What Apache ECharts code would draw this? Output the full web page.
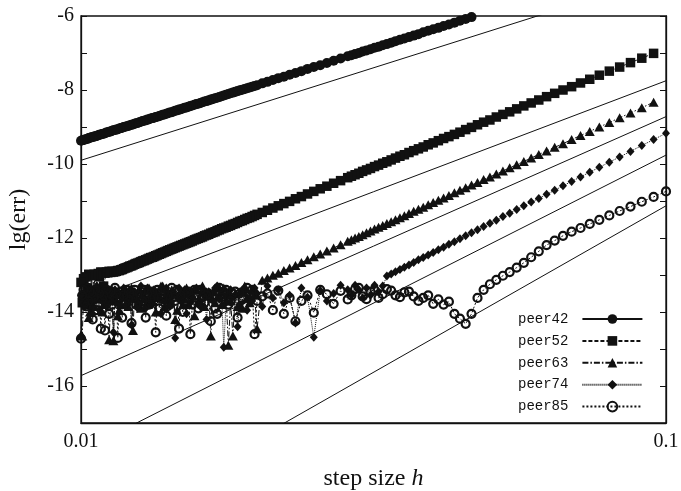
<!DOCTYPE html>
<html>
<head>
<meta charset="utf-8">
<script src="https://cdn.jsdelivr.net/npm/echarts@6/dist/echarts.min.js"></script>
<style>
  html, body { margin: 0; padding: 0; background: #fff; }
  #chart { width: 681px; height: 491px; }
</style>
</head>
<body>
<div id="chart"></div>
<script>
// step sizes h, from 0.1 down to 0.01
const steps = [
  0.1, 0.09524, 0.09091, 0.08696, 0.08333, 0.08, 0.07692, 0.07407, 0.07143, 0.06897,
  0.06667, 0.06452, 0.0625, 0.06061, 0.05882, 0.05714, 0.05556, 0.05405, 0.05263, 0.05128,
  0.05, 0.04878, 0.04762, 0.04651, 0.04545, 0.04444, 0.04348, 0.04255, 0.04167, 0.04082,
  0.04, 0.03922, 0.03846, 0.03774, 0.03704, 0.03636, 0.03571, 0.03509, 0.03448, 0.0339,
  0.03333, 0.03279, 0.03226, 0.03175, 0.03125, 0.03077, 0.0303, 0.02985, 0.02941, 0.02899,
  0.02857, 0.02778, 0.02703, 0.02632, 0.02564, 0.025, 0.02439, 0.02381, 0.02326, 0.02273,
  0.02222, 0.02174, 0.02128, 0.02083, 0.02041,
  0.02, 0.0198, 0.01961, 0.01942, 0.01923, 0.01905, 0.01887, 0.01869, 0.01852, 0.01835,
  0.01818, 0.01802, 0.01786, 0.0177, 0.01754, 0.01739, 0.01724, 0.01709, 0.01695, 0.01681,
  0.01667, 0.01653, 0.01639, 0.01626, 0.01613, 0.016, 0.01587, 0.01575, 0.01563, 0.0155,
  0.01538, 0.01527, 0.01515, 0.01504, 0.01493, 0.01481, 0.01471, 0.0146, 0.01449, 0.01439,
  0.01429, 0.01418, 0.01408, 0.01399, 0.01389, 0.01379, 0.0137, 0.01361, 0.01351, 0.01342,
  0.01333, 0.01325, 0.01316, 0.01307, 0.01299, 0.0129, 0.01282, 0.01274, 0.01266, 0.01258,
  0.0125, 0.01242, 0.01235, 0.01227, 0.0122, 0.01212, 0.01205, 0.01198, 0.0119, 0.01183,
  0.01176, 0.0117, 0.01163, 0.01156, 0.01149, 0.01143, 0.01136, 0.0113, 0.01124, 0.01117,
  0.01111, 0.01105, 0.01099, 0.01093, 0.01087, 0.01081, 0.01075, 0.0107, 0.01064, 0.01058,
  0.01053, 0.01047, 0.01042, 0.01036, 0.01031, 0.01026, 0.0102, 0.01015, 0.0101, 0.01005,
  0.01
]

// lg(err) per method, same order as steps (null = off the plot)
const peer42 = [
  null, null, null, null, null, null, null, null, null, null,
  null, null, null, null, null, null, null, null, null, null,
  null, null, null, -6.03, -6.08, -6.13, -6.18, -6.23, -6.27, -6.32,
  -6.36, -6.40, -6.44, -6.49, -6.53, -6.57, -6.61, -6.64, -6.68, -6.72,
  -6.76, -6.79, -6.83, -6.86, -6.90, -6.93, -6.96, -7.00, -7.03, -7.06,
  -7.09, -7.15, -7.21, -7.27, -7.33, -7.38, -7.43, -7.49, -7.54, -7.59,
  -7.64, -7.68, -7.73, -7.78, -7.82,
  -7.87, -7.89, -7.91, -7.93, -7.95, -7.97, -7.99, -8.01, -8.03, -8.05,
  -8.07, -8.09, -8.11, -8.13, -8.15, -8.17, -8.19, -8.21, -8.22, -8.24,
  -8.26, -8.28, -8.30, -8.31, -8.33, -8.35, -8.37, -8.38, -8.40, -8.42,
  -8.43, -8.45, -8.47, -8.48, -8.50, -8.52, -8.53, -8.55, -8.56, -8.58,
  -8.60, -8.61, -8.63, -8.64, -8.66, -8.67, -8.69, -8.70, -8.72, -8.73,
  -8.75, -8.76, -8.77, -8.79, -8.80, -8.82, -8.83, -8.84, -8.86, -8.87,
  -8.89, -8.90, -8.91, -8.93, -8.94, -8.95, -8.97, -8.98, -8.99, -9.00,
  -9.02, -9.03, -9.04, -9.06, -9.07, -9.08, -9.09, -9.10, -9.12, -9.13,
  -9.14, -9.15, -9.17, -9.18, -9.19, -9.20, -9.21, -9.22, -9.24, -9.25,
  -9.26, -9.27, -9.28, -9.29, -9.30, -9.32, -9.33, -9.34, -9.35, -9.36,
  -9.37
]
const peer52 = [
  null, -7.01, -7.14, -7.26, -7.38, -7.49, -7.60, -7.71, -7.81, -7.91,
  -8.00, -8.09, -8.18, -8.27, -8.35, -8.43, -8.51, -8.59, -8.66, -8.73,
  -8.81, -8.87, -8.94, -9.01, -9.07, -9.14, -9.20, -9.26, -9.31, -9.37,
  -9.43, -9.48, -9.54, -9.59, -9.64, -9.69, -9.75, -9.79, -9.84, -9.89,
  -9.94, -9.98, -10.03, -10.07, -10.12, -10.16, -10.20, -10.25, -10.29, -10.33,
  -10.37, -10.45, -10.52, -10.60, -10.67, -10.74, -10.81, -10.88, -10.94, -11.01,
  -11.07, -11.13, -11.19, -11.25, -11.31,
  -11.36, -11.39, -11.42, -11.45, -11.47, -11.50, -11.53, -11.55, -11.58, -11.61,
  -11.63, -11.66, -11.68, -11.71, -11.73, -11.75, -11.78, -11.80, -11.83, -11.85,
  -11.87, -11.90, -11.92, -11.94, -11.97, -11.99, -12.01, -12.03, -12.05, -12.08,
  -12.10, -12.12, -12.14, -12.16, -12.18, -12.20, -12.22, -12.24, -12.26, -12.28,
  -12.30, -12.32, -12.34, -12.36, -12.38, -12.40, -12.42, -12.44, -12.46, -12.48,
  -12.50, -12.52, -12.53, -12.55, -12.57, -12.59, -12.61, -12.62, -12.64, -12.66,
  -12.68, -12.69, -12.71, -12.73, -12.75, -12.76, -12.78, -12.80, -12.81, -12.83,
  -12.85, -12.86, -12.88, -12.88, -12.90, -12.91, -12.92, -12.90, -12.93, -12.90,
  -12.94, -12.92, -12.95, -13.30, -12.93, -12.92, -13.05, -12.96, -13.00, -13.55,
  -12.98, -13.45, -13.02, -13.80, -12.98, -13.35, -13.05, -13.60, -13.10, -13.75,
  -13.20
]
const peer63 = [
  null, -8.33, -8.48, -8.62, -8.75, -8.88, -9.00, -9.12, -9.23, -9.34,
  -9.45, -9.55, -9.65, -9.74, -9.84, -9.93, -10.02, -10.10, -10.19, -10.27,
  -10.35, -10.42, -10.50, -10.57, -10.64, -10.71, -10.78, -10.85, -10.92, -10.98,
  -11.04, -11.10, -11.17, -11.22, -11.28, -11.34, -11.40, -11.45, -11.51, -11.56,
  -11.61, -11.66, -11.71, -11.76, -11.81, -11.86, -11.91, -11.96, -12.00, -12.05,
  -12.09, -12.18, -12.27, -12.35, -12.43, -12.51, -12.59, -12.66, -12.74, -12.81,
  -12.88, -12.95, -13.01, -13.08, -13.14,
  -14.45, -13.55, -13.40, -13.75, -13.60, -13.30, -13.90, -13.45, -13.85, -13.50,
  -14.65, -13.70, -14.90, -13.55, -13.35, -13.80, -13.35, -13.60, -13.75, -13.45,
  -14.65, -13.50, -13.45, -13.85, -13.30, -13.70, -13.70, -13.40, -14.10, -13.55,
  -13.50, -13.80, -13.35, -13.65, -13.80, -13.45, -13.60, -13.95, -14.20, -13.50,
  -13.40, -13.75, -13.55, -13.65, -13.85, -13.30, -13.30, -13.60, -13.50, -14.00,
  -13.45, -13.70, -13.55, -13.35, -13.80, -13.40, -13.65, -13.50, -13.90, -13.40,
  -13.75, -13.60, -13.45, -14.50, -13.35, -13.60, -13.85, -13.70, -13.40, -13.55,
  -13.45, -13.80, -13.95, -14.10, -13.50, -13.65, -14.78, -13.40, -13.70, -14.75,
  -13.60, -13.35, -13.55, -13.80, -14.00, -13.95, -13.40, -13.65, -13.30, -13.50,
  -13.85, -13.65, -13.40, -14.00, -14.15, -13.55, -13.75, -13.40, -13.60, -14.65,
  -14.62
]
const peer74 = [
  -9.17, -9.34, -9.50, -9.66, -9.81, -9.95, -10.09, -10.22, -10.35, -10.47,
  -10.59, -10.71, -10.82, -10.93, -11.03, -11.13, -11.23, -11.33, -11.42, -11.52,
  -11.60, -11.69, -11.78, -11.86, -11.94, -12.02, -12.10, -12.17, -12.25, -12.32,
  -12.39, -12.46, -12.53, -12.59, -12.66, -12.73, -12.79, -12.85, -12.91, -12.97,
  -13.03, -13.30, -13.45, -13.28, -13.55, -13.35, -13.62, -13.40, -13.28, -13.55,
  -13.40, -13.28, -13.50, -13.70, -13.42, -14.68, -13.60, -13.35, -14.30, -13.55,
  -13.75, -13.40, -13.62, -13.30, -13.85,
  -13.50, -13.35, -13.70, -13.60, -13.95, -13.45, -13.40, -13.80, -14.40, -13.55,
  -13.60, -13.40, -13.55, -13.75, -14.95, -13.50, -13.65, -13.30, -13.35, -13.70,
  -13.65, -13.45, -14.20, -13.55, -13.45, -13.85, -13.80, -13.35, -13.40, -13.60,
  -13.75, -13.50, -14.05, -13.40, -13.55, -13.70, -13.35, -13.60, -14.70, -13.45,
  -13.60, -13.85, -13.50, -13.35, -13.70, -13.40, -14.05, -13.55, -13.65, -13.60,
  -13.40, -13.80, -13.45, -13.65, -13.35, -13.90, -13.50, -13.60, -13.30, -13.75,
  -13.90, -13.70, -13.45, -13.60, -14.35, -13.40, -13.55, -13.50, -13.85, -13.35,
  -13.65, -13.50, -13.80, -13.45, -13.60, -13.40, -14.55, -13.70, -13.50, -13.40,
  -13.55, -13.85, -13.75, -13.40, -13.65, -13.50, -13.95, -13.45, -13.30, -13.60,
  -13.70, -14.05, -13.40, -13.55, -13.60, -13.80, -13.35, -13.85, -13.50, -13.65,
  -13.55
]
const peer85 = [
  -10.74, -10.89, -11.02, -11.15, -11.27, -11.39, -11.51, -11.62, -11.73, -11.83,
  -11.94, -12.07, -12.19, -12.36, -12.52, -12.67, -12.80, -12.92, -13.02, -13.13,
  -13.25, -13.40, -13.62, -14.05, -14.32, -14.18, -14.05, -13.72, -13.80, -13.66,
  -13.78, -13.55, -13.62, -13.70, -13.58, -13.45, -13.47, -13.60, -13.55, -13.42,
  -13.38, -13.52, -13.62, -13.40, -13.45, -13.65, -13.58, -13.35, -13.38, -13.55,
  -13.66, -13.43, -13.78, -13.52, -13.40, -14.02, -13.55, -13.70, -14.25, -13.62,
  -14.05, -13.42, -13.95, -13.50, -13.58,
  -13.70, -14.60, -13.40, -13.55, -13.35, -13.80, -13.65, -13.50, -14.15, -13.45,
  -13.50, -13.70, -13.80, -13.40, -13.45, -13.60, -13.35, -14.05, -13.90, -13.55,
  -14.25, -13.50, -13.55, -13.75, -13.60, -13.40, -13.90, -13.55, -13.40, -13.80,
  -14.60, -13.45, -13.48, -13.70, -14.00, -13.55, -14.45, -13.40, -13.70, -13.60,
  -13.35, -13.80, -13.55, -14.10, -13.45, -13.65, -13.52, -13.90, -13.40, -14.55,
  -13.60, -13.45, -13.65, -13.80, -13.50, -14.15, -13.40, -13.70, -13.45, -13.85,
  -13.55, -13.80, -13.40, -13.60, -14.30, -13.50, -13.65, -13.40, -13.75, -13.55,
  -14.15, -13.45, -13.60, -14.70, -13.50, -13.35, -13.60, -13.80, -13.45, -14.05,
  -13.70, -13.40, -14.50, -13.55, -13.65, -14.45, -13.50, -13.80, -13.95, -13.40,
  -13.60, -14.20, -13.50, -13.45, -13.70, -13.35, -13.85, -13.75, -13.40, -13.55,
  -14.72
]

// reference slopes h^5 .. h^9, endpoints at h = 0.01 and h = 0.1
const guide5 = [[0.01, -9.9], [0.1, -4.9]]
const guide6 = [[0.01, -13.75], [0.1, -7.75]]
const guide7 = [[0.01, -15.72], [0.1, -8.72]]
const guide8 = [[0.01, -17.76], [0.1, -9.76]]
const guide9 = [[0.01, -20.13], [0.1, -11.13]]

const xTickLabels = [0.01, 0.1]
const yTickLabels = [-6, -8, -10, -12, -14, -16]

const INK = '#111'
const SERIF = '"Liberation Serif", "DejaVu Serif", serif'

const toPairs = (vals) => steps
  .map((h, i) => [h, vals[i]])
  .filter((p) => p[1] !== null)

// hollow: open marker, the line shows through it
const methods = [
  { name: 'peer42', values: peer42, symbol: 'circle', size: 10, dash: 'solid' },
  { name: 'peer52', values: peer52, symbol: 'rect', size: 9.5, dash: [4, 2] },
  { name: 'peer63', values: peer63, symbol: 'triangle', size: [10, 9], dash: [6, 2, 1.5, 2] },
  { name: 'peer74', values: peer74, symbol: 'diamond', size: [8, 9], dash: [1, 1] },
  { name: 'peer85', values: peer85, symbol: 'circle', size: 8, dash: [2, 2], hollow: true }
]

const guideSeries = [guide5, guide6, guide7, guide8, guide9].map((g) => ({
  type: 'line',
  data: g,
  symbol: 'none',
  silent: true,
  clip: true,
  lineStyle: { color: INK, width: 1 },
  z: 1
}))

const methodSeries = methods.map((m) => ({
  name: m.name,
  type: 'line',
  data: toPairs(m.values),
  symbol: m.symbol,
  symbolSize: m.size,
  showAllSymbol: true,
  clip: true,
  lineStyle: { color: INK, width: 1, type: m.dash },
  itemStyle: m.hollow
    ? { color: 'rgba(255,255,255,0)', borderColor: INK, borderWidth: 2.2 }
    : { color: INK, borderWidth: 0 },
  z: 2
}))

const yAxisBase = {
  type: 'value',
  min: -17,
  max: -6,
  interval: 1,
  splitLine: { show: false },
  axisLine: { show: true, lineStyle: { color: INK, width: 1.3 } },
  axisTick: { show: true, inside: true, length: 6, lineStyle: { color: INK } }
}

const chart = echarts.init(document.getElementById('chart'))
chart.setOption({
  animation: false,
  backgroundColor: '#fff',
  grid: {
    left: 81,
    right: 15,
    top: 16,
    bottom: 68,
    outerBoundsMode: 'none',
    containLabel: false,
    show: true,
    borderColor: INK,
    borderWidth: 1.3
  },
  legend: {
    data: methods.map((m) => m.name),
    orient: 'vertical',
    left: 518,
    top: 312,
    padding: 0,
    align: 'right',
    itemWidth: 60,
    itemHeight: 12,
    itemGap: 7.9,
    textStyle: {
      fontFamily: '"Liberation Mono", "DejaVu Sans Mono", monospace',
      fontSize: 14,
      color: INK,
      padding: [0, 9, 0, 0]
    }
  },
  xAxis: {
    type: 'log',
    logBase: 10,
    min: 0.01,
    max: 0.1,
    name: 'step size {i|h}',
    nameLocation: 'middle',
    nameGap: 44,
    nameTextStyle: {
      fontFamily: SERIF,
      fontSize: 24,
      color: INK,
      rich: { i: { fontFamily: SERIF, fontSize: 24, fontStyle: 'italic', color: INK } }
    },
    splitLine: { show: false },
    axisTick: { show: false },
    minorTick: { show: false },
    axisLine: { show: true, onZero: false, lineStyle: { color: INK, width: 1.3 } },
    axisLabel: {
      fontFamily: SERIF,
      fontSize: 20,
      color: INK,
      margin: 9,
      formatter: (v) => {
        const hit = xTickLabels.find((t) => Math.abs(t - v) < 1e-9)
        return hit === undefined ? '' : String(hit)
      }
    }
  },
  yAxis: [
    {
      ...yAxisBase,
      position: 'left',
      name: 'lg(err)',
      nameLocation: 'middle',
      nameGap: 50,
      nameTextStyle: { fontFamily: SERIF, fontSize: 24, color: INK },
      axisLabel: {
        fontFamily: SERIF,
        fontSize: 20,
        color: INK,
        margin: 7,
        formatter: (v) => (yTickLabels.includes(v) ? String(v) : '')
      }
    },
    {
      ...yAxisBase,
      position: 'right',
      axisLabel: { show: false }
    }
  ],
  series: [...guideSeries, ...methodSeries]
})
</script>
</body>
</html>
